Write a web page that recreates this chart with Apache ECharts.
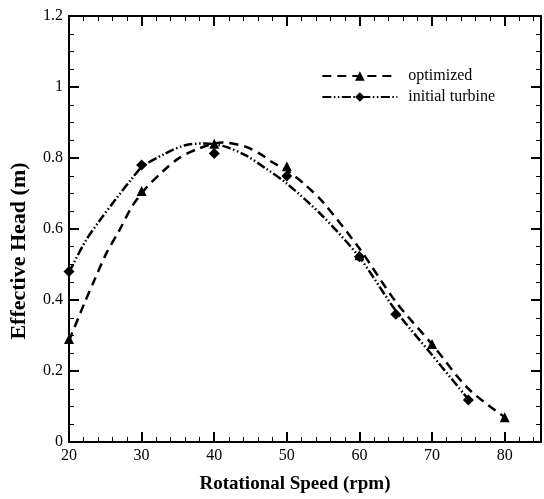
<!DOCTYPE html>
<html>
<head>
<meta charset="utf-8">
<script src="https://cdn.jsdelivr.net/npm/echarts@6/dist/echarts.min.js"></script>
<style>html,body{margin:0;padding:0;background:#fff}#c{width:544px;height:499px}</style>
</head>
<body>
<div id="c"></div>
<script>
// fitted curves
const optCurveX = [20, 22.1, 23.5, 25.1, 26.9, 28.7, 30.6, 32.9, 35.1, 37.9, 41.1, 44.3, 46.6, 48, 50, 52.5, 55, 60, 65, 70, 75, 80];
const optCurveY = [0.285, 0.39, 0.456, 0.53, 0.595, 0.664, 0.715, 0.762, 0.799, 0.827, 0.844, 0.832, 0.808, 0.788, 0.765, 0.725, 0.675, 0.545, 0.395, 0.275, 0.15, 0.07];
const iniCurveX = [20, 22.3, 24.2, 26.4, 28.7, 30.1, 33.3, 36, 38.8, 41.5, 44.3, 47, 50, 55, 60, 65, 70, 75];
const iniCurveY = [0.478, 0.567, 0.623, 0.683, 0.743, 0.776, 0.813, 0.836, 0.841, 0.832, 0.808, 0.772, 0.728, 0.635, 0.52, 0.37, 0.245, 0.12];
// measured points
const optPtX = [20, 30, 40, 50, 60, 70, 80];
const optPtY = [0.29, 0.707, 0.84, 0.777, 0.526, 0.276, 0.07];
const iniPtX = [20, 30, 40, 50, 60, 65, 75];
const iniPtY = [0.48, 0.78, 0.813, 0.749, 0.522, 0.36, 0.118];
const xTicks = [20, 30, 40, 50, 60, 70, 80];
const yTicks = [0, 0.2, 0.4, 0.6, 0.8, 1, 1.2];

const zip = (a, b) => a.map((v, i) => [v, b[i]]);
const serif = 'Liberation Serif';

const chart = echarts.init(document.getElementById('c'));
const axisLine = { show: true, onZero: false, lineStyle: { color: '#000', width: 2 } };
const tick = { inside: true, length: 10, lineStyle: { color: '#000', width: 2 } };
const minorX = { show: true, splitNumber: 5, length: 5, lineStyle: { color: '#000', width: 1 } };
const minorY = { show: true, splitNumber: 4, length: 5, lineStyle: { color: '#000', width: 1 } };
chart.setOption({
  animation: false,
  grid: { left: 69, top: 16, right: 3, bottom: 52, containLabel: false },
  legend: {
    right: 44, top: 63, orient: 'vertical', itemGap: 5,
    itemWidth: 75, itemHeight: 12,
    data: ['optimized', 'initial turbine'],
    textStyle: { fontFamily: serif, fontSize: 16, color: '#000', padding: [0, 0, 0, 6] }
  },
  xAxis: [{
    type: 'value', min: 20, max: 85, interval: 10,
    axisLine, axisTick: tick, minorTick: minorX, splitLine: { show: false },
    axisLabel: { fontFamily: serif, fontSize: 16, color: '#000', margin: 6,
      formatter: v => xTicks.includes(v) ? String(v) : '' },
    name: 'Rotational Speed (rpm)', nameLocation: 'middle', nameGap: 33,
    nameTextStyle: { fontFamily: serif, fontSize: 19, fontWeight: 'bold', color: '#000', padding: [0, 20, 0, 0] }
  }, {
    type: 'value', min: 20, max: 85, interval: 10, position: 'top',
    axisLine, axisTick: tick, minorTick: minorX, splitLine: { show: false },
    axisLabel: { show: false }
  }],
  yAxis: [{
    type: 'value', min: 0, max: 1.2, interval: 0.2,
    axisLine, axisTick: tick, minorTick: minorY, splitLine: { show: false },
    axisLabel: { fontFamily: serif, fontSize: 16, color: '#000', margin: 6,
      formatter: v => { const t = yTicks.find(k => Math.abs(k - v) < 1e-6); return t === undefined ? '' : String(t); } },
    name: 'Effective Head (m)', nameLocation: 'middle', nameGap: 39,
    nameTextStyle: { fontFamily: serif, fontSize: 22, fontWeight: 'bold', color: '#000', padding: [0, 44, 0, 0] }
  }, {
    type: 'value', min: 0, max: 1.2, interval: 0.2, position: 'right',
    axisLine, axisTick: tick, minorTick: minorY, splitLine: { show: false },
    axisLabel: { show: false }
  }],
  series: [{
    name: 'optimized', type: 'line', smooth: 0.3, data: zip(optCurveX, optCurveY),
    symbol: 'triangle', symbolSize: 9, showSymbol: false,
    itemStyle: { color: '#000' },
    lineStyle: { color: '#000', width: 2.5, type: [9, 6] }, z: 3
  }, {
    name: 'initial turbine', type: 'line', smooth: 0.3, data: zip(iniCurveX, iniCurveY),
    symbol: 'diamond', symbolSize: 10, showSymbol: false,
    itemStyle: { color: '#000' },
    lineStyle: { color: '#000', width: 2.5, type: [9, 2.5, 1.5, 2.5, 1.5, 2.5] }, z: 3
  }, {
    name: 'optimized pts', type: 'scatter', data: zip(optPtX, optPtY),
    symbol: 'triangle', symbolSize: 10, itemStyle: { color: '#000', opacity: 1 }, z: 4
  }, {
    name: 'initial pts', type: 'scatter', data: zip(iniPtX, iniPtY),
    symbol: 'diamond', symbolSize: 11, itemStyle: { color: '#000', opacity: 1 }, z: 4
  }]
});
</script>
</body>
</html>
